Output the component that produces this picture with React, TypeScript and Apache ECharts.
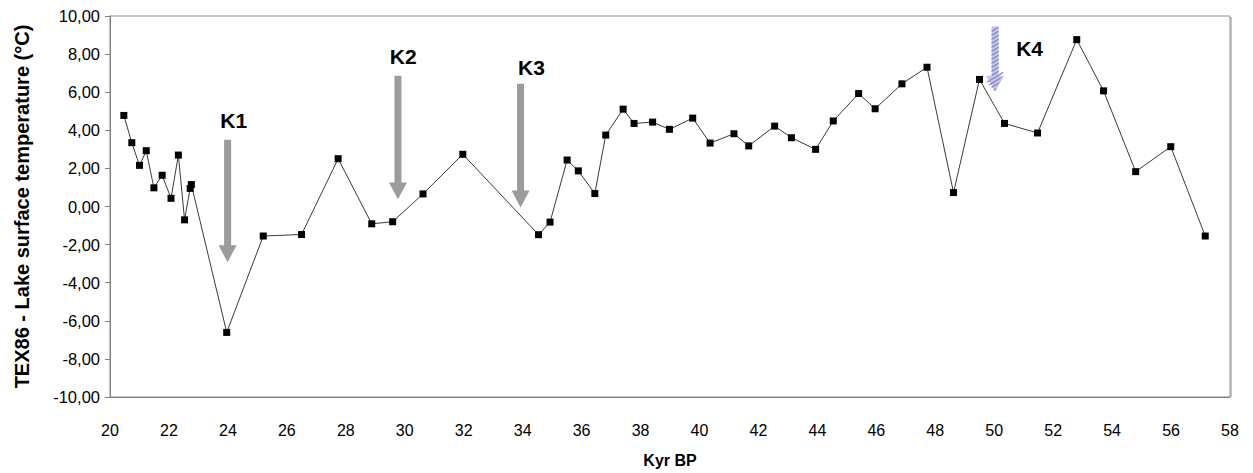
import React, { useEffect, useRef } from "react";
import * as echarts from "echarts";

// Age (kyr BP) of each sample
const ages = [
  20.47, 20.74, 21.0, 21.23, 21.49, 21.77, 22.07, 22.32, 22.53, 22.72, 22.76,
  23.96, 25.2, 26.5, 27.74, 28.88, 29.59, 30.62, 31.97, 34.54, 34.93, 35.51,
  35.89, 36.45, 36.82, 37.41, 37.78, 38.41, 38.98, 39.77, 40.36, 41.17, 41.67,
  42.55, 43.12, 43.94, 44.54, 45.4, 45.96, 46.87, 47.72, 48.62, 49.5, 50.35,
  51.47, 52.8, 53.71, 54.8, 55.99, 57.16,
];
// TEX86 lake surface temperature (°C)
const temps = [
  4.78, 3.35, 2.16, 2.93, 0.98, 1.64, 0.43, 2.7, -0.7, 0.95, 1.15,
  -6.61, -1.55, -1.47, 2.51, -0.91, -0.8, 0.66, 2.74, -1.48, -0.82, 2.44,
  1.87, 0.68, 3.75, 5.11, 4.36, 4.43, 4.05, 4.64, 3.33, 3.82, 3.18,
  4.22, 3.61, 3.0, 4.49, 5.93, 5.13, 6.44, 7.31, 0.73, 6.67, 4.36,
  3.86, 8.76, 6.07, 1.83, 3.14, -1.55,
];

// Event arrows (K1..K4): x position, shaft top, head start, tip (data units)
const eventNames = ["K1", "K2", "K3", "K4"];
const eventX = [23.99, 29.77, 33.93, 50.03];
const eventTop = [3.5, 6.86, 6.44, 9.46];
const eventHead = [-2.04, 1.26, 0.84, 6.86];
const eventTip = [-2.93, 0.38, -0.05, 6.02];
const labelX = [24.2, 29.95, 34.3, 51.2];
const labelY = [4.5, 7.9, 7.3, 8.3];

const xTicksMin = 20;
const xTicksMax = 58;
const yTicksMin = -10;
const yTicksMax = 10;

export default function App() {
  const ref = useRef<HTMLDivElement>(null);
  useEffect(() => {
    if (!ref.current) return;
    const chart = echarts.init(ref.current, null, { renderer: "svg" });
    const font = "Liberation Sans, Arial, sans-serif";
    chart.setOption({
      animation: false,
      backgroundColor: "#ffffff",
      grid: {
        left: 110,
        right: 23,
        top: 16,
        bottom: 71,
        show: true,
        borderColor: "#8a8a8a",
        borderWidth: 1,
      },
      xAxis: {
        type: "value",
        min: xTicksMin,
        max: xTicksMax,
        interval: 2,
        name: "Kyr BP",
        nameLocation: "middle",
        nameGap: 55,
        nameTextStyle: { fontFamily: font, fontWeight: "bold", fontSize: 16, color: "#000" },
        axisLine: { onZero: false, lineStyle: { color: "#808080" } },
        axisTick: { show: false },
        axisLabel: { fontFamily: font, fontSize: 16, color: "#000", margin: 25 },
        splitLine: { show: false },
      },
      yAxis: {
        type: "value",
        min: yTicksMin,
        max: yTicksMax,
        interval: 2,
        name: "TEX86 - Lake surface temperature (°C)",
        nameLocation: "middle",
        nameRotate: 90,
        nameGap: 78,
        nameTextStyle: { fontFamily: font, fontWeight: "bold", fontSize: 20, color: "#000" },
        axisLine: { show: true, onZero: false, lineStyle: { color: "#808080" } },
        axisTick: { show: true, inside: false, length: 5, lineStyle: { color: "#808080" } },
        axisLabel: {
          fontFamily: font,
          fontSize: 16.5,
          color: "#000",
          margin: 10,
          formatter: (v: number) => v.toFixed(2).replace(".", ","),
        },
        splitLine: { show: false },
      },
      series: [
        {
          type: "line",
          data: ages.map((a, i) => [a, temps[i]]),
          symbol: "rect",
          symbolSize: 7,
          itemStyle: { color: "#000" },
          lineStyle: { color: "#3a3a3a", width: 1 },
          z: 5,
        },
      ],
    });

    const graphics: any[] = [];
    // slightly heavier right border, as in the original plot frame
    const [rx, ry0] = chart.convertToPixel({ gridIndex: 0 }, [xTicksMax, yTicksMax]);
    const [, ry1] = chart.convertToPixel({ gridIndex: 0 }, [xTicksMax, yTicksMin]);
    graphics.push({
      type: "line",
      shape: { x1: rx + 1, y1: ry0 + 1, x2: rx + 1, y2: ry1 },
      style: { stroke: "#b0b0b0", lineWidth: 1.5 },
      z: 1,
    });
    eventNames.forEach((name, i) => {
      const [cx, top] = chart.convertToPixel({ gridIndex: 0 }, [eventX[i], eventTop[i]]);
      const [, head] = chart.convertToPixel({ gridIndex: 0 }, [eventX[i], eventHead[i]]);
      const [, tip] = chart.convertToPixel({ gridIndex: 0 }, [eventX[i], eventTip[i]]);
      const sw = 3.5;
      const hw = 9;
      const pts = [
        [cx - sw, top],
        [cx + sw, top],
        [cx + sw, head],
        [cx + hw, head],
        [cx, tip],
        [cx - hw, head],
        [cx - sw, head],
      ];
      const hatched = i === 3;
      graphics.push({
        type: "polygon",
        shape: { points: pts },
        style: { fill: hatched ? "#c4c4ee" : "#9c9c9c", stroke: null },
        z: 10,
      });
      if (hatched) {
        for (let y = top + 3; y < tip - 2; y += 4) {
          const halfW = y < head ? sw : Math.max(0, hw * (tip - y) / (tip - head));
          graphics.push({
            type: "line",
            shape: { x1: cx - halfW, y1: y + halfW * 0.6, x2: cx + halfW, y2: y - halfW * 0.6 },
            style: { stroke: "#8c8cbc", lineWidth: 1.3 },
            z: 11,
          });
        }
      }
      const [lx, ly] = chart.convertToPixel({ gridIndex: 0 }, [labelX[i], labelY[i]]);
      graphics.push({
        type: "text",
        x: lx,
        y: ly,
        style: {
          text: name,
          fontFamily: font,
          fontWeight: "bold",
          fontSize: 21,
          fill: "#000",
          align: "center",
          verticalAlign: "middle",
        },
        z: 12,
      });
    });
    chart.setOption({ graphic: graphics });

    return () => chart.dispose();
  }, []);
  return (
    <div
      ref={ref}
      style={{ position: "fixed", left: 0, top: 0, width: 1253, height: 473 }}
    />
  );
}
